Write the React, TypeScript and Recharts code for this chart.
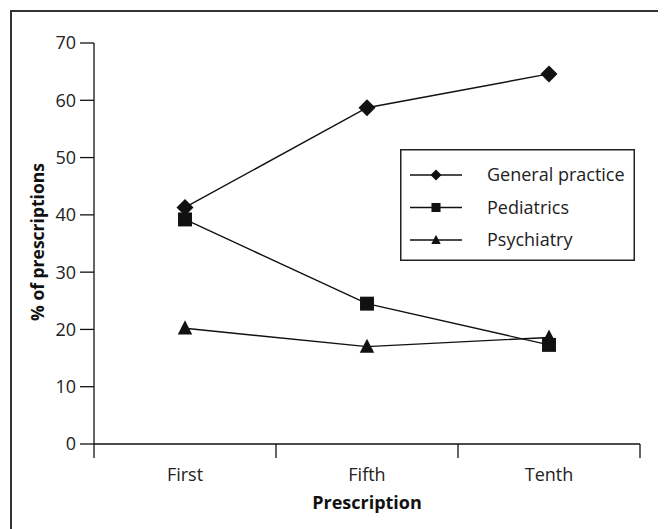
import React from 'react';
import { LineChart, Line, XAxis, YAxis, Legend, Label } from 'recharts';

const categories = ['First', 'Fifth', 'Tenth'];
const generalPractice = [41.3, 58.7, 64.6];
const pediatrics = [39.2, 24.5, 17.3];
const psychiatry = [20.2, 17.0, 18.6];
const yTicks = [0, 10, 20, 30, 40, 50, 60, 70];
const seriesNames = ['General practice', 'Pediatrics', 'Psychiatry'];

const data = categories.map((c, i) => ({
  pos: i + 0.5,
  name: c,
  gp: generalPractice[i],
  ped: pediatrics[i],
  psy: psychiatry[i],
}));

const FONT = '"Open Sans", "DejaVu Sans", sans-serif';
const INK = '#111';

const diamond = (cx: number, cy: number, r: number) =>
  `${cx},${cy - r} ${cx + r},${cy} ${cx},${cy + r} ${cx - r},${cy}`;
const triangle = (cx: number, cy: number, r: number) =>
  `${cx},${cy - r * 1.1} ${cx + r},${cy + r * 0.85} ${cx - r},${cy + r * 0.85}`;

const Marker = ({ kind, cx, cy, size }: { kind: string; cx: number; cy: number; size: number }) => {
  if (kind === 'diamond') return <polygon points={diamond(cx, cy, size)} fill={INK} />;
  if (kind === 'square')
    return <rect x={cx - size * 0.82} y={cy - size * 0.82} width={size * 1.64} height={size * 1.64} fill={INK} />;
  return <polygon points={triangle(cx, cy, size * 0.85)} fill={INK} />;
};

const makeDot = (kind: string) => (props: any) => {
  const { cx, cy, index } = props;
  if (cx == null || cy == null) return <g key={index} />;
  return <Marker key={index} kind={kind} cx={cx} cy={cy} size={8.5} />;
};

const CatTick = (props: any) => {
  const { x, y, payload } = props;
  const v = payload.value as number;
  if (Math.abs(v - Math.round(v)) < 1e-6) {
    return <line x1={x} x2={x} y1={y} y2={y + 14} stroke={INK} strokeWidth={1.3} />;
  }
  const idx = Math.floor(v);
  return (
    <text x={x} y={y + 37} textAnchor="middle" fontFamily={FONT} fontSize={18} fill="#222">
      {categories[idx]}
    </text>
  );
};

const kinds = ['diamond', 'square', 'triangle'];

const renderLegend = () => (
  <div style={{ width: 235, height: 112 }}>
    <svg width={235} height={112}>
      <rect x={0.75} y={0.75} width={233.5} height={110.5} fill="#fff" stroke="#222" strokeWidth={1.5} />
      {seriesNames.map((n, i) => {
        const cy = 26 + i * 32.5;
        return (
          <g key={n}>
            <line x1={10} x2={62} y1={cy} y2={cy} stroke={INK} strokeWidth={1.4} />
            <Marker kind={kinds[i]} cx={36} cy={cy} size={5.5} />
            <text x={87} y={cy + 6} fontFamily={FONT} fontSize={18} fill="#222">
              {n}
            </text>
          </g>
        );
      })}
    </svg>
  </div>
);

export default function App() {
  return (
    <div
      style={{
        marginLeft: 2,
        marginTop: 2,
        width: 650,
        height: 540,
        border: '2px solid #333',
        background: '#fff',
        position: 'relative',
      }}
    >
      <LineChart width={650} height={525} data={data} margin={{ top: 31, right: 22, left: 0, bottom: 0 }}>
        <XAxis
          dataKey="pos"
          type="number"
          domain={[0, 3]}
          ticks={[0, 0.5, 1, 1.5, 2, 2.5, 3]}
          interval={0}
          tickSize={0}
          tickMargin={0}
          tickLine={false}
          tick={<CatTick />}
          axisLine={{ stroke: INK, strokeWidth: 1.3 }}
          height={93}
          allowDataOverflow
        >
          <Label
            content={(p: any) => {
              const vb = p.viewBox || { x: 82, y: 432, width: 546, height: 93 };
              return (
                <text
                  x={vb.x + vb.width / 2}
                  y={vb.y + 65}
                  textAnchor="middle"
                  fontFamily={FONT}
                  fontSize={18}
                  fontWeight="bold"
                  fill={INK}
                >
                  Prescription
                </text>
              );
            }}
          />
        </XAxis>
        <YAxis
          type="number"
          domain={[0, 70]}
          ticks={yTicks}
          interval={0}
          width={82}
          tickSize={14}
          tickMargin={4}
          tick={{ fontFamily: FONT, fontSize: 18, fill: '#222' }}
          tickLine={{ stroke: INK, strokeWidth: 1.3 }}
          axisLine={{ stroke: INK, strokeWidth: 1.3 }}
        >
          <Label
            content={() => {
              const cx = 25;
              const cy = 230;
              return (
                <text
                  x={cx}
                  y={cy}
                  transform={`rotate(-90, ${cx}, ${cy})`}
                  textAnchor="middle"
                  dominantBaseline="central"
                  fontFamily={FONT}
                  fontSize={17.5}
                  fontWeight="bold"
                  fill={INK}
                >
                  % of prescriptions
                </text>
              );
            }}
          />
        </YAxis>
        <Legend
          layout="vertical"
          align="center"
          verticalAlign="middle"
          content={renderLegend}
          wrapperStyle={{ position: 'absolute', left: 388, top: 137, width: 235, height: 112 }}
        />
        <Line
          dataKey="psy"
          name="Psychiatry"
          stroke={INK}
          strokeWidth={1.4}
          dot={makeDot('triangle')}
          activeDot={false}
          isAnimationActive={false}
        />
        <Line
          dataKey="ped"
          name="Pediatrics"
          stroke={INK}
          strokeWidth={1.4}
          dot={makeDot('square')}
          activeDot={false}
          isAnimationActive={false}
        />
        <Line
          dataKey="gp"
          name="General practice"
          stroke={INK}
          strokeWidth={1.4}
          dot={makeDot('diamond')}
          activeDot={false}
          isAnimationActive={false}
        />
      </LineChart>
    </div>
  );
}
